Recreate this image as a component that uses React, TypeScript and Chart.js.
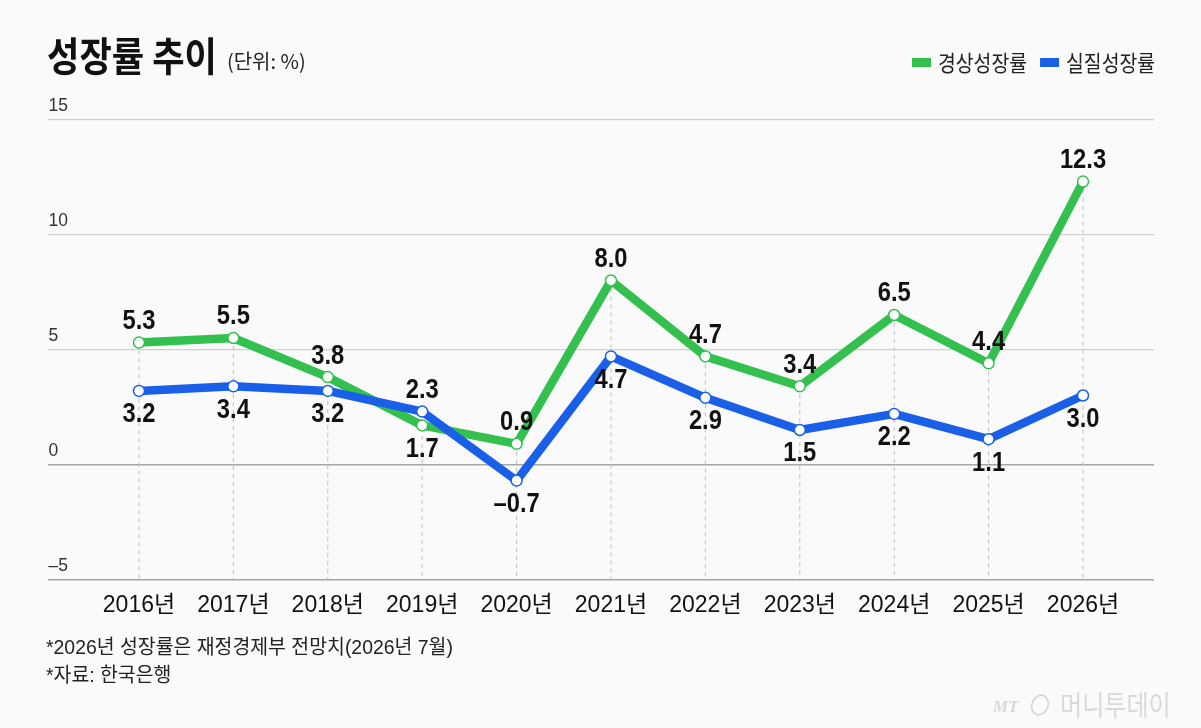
import React, { useEffect, useRef } from 'react';
import { Chart, registerables } from 'chart.js';

Chart.register(...registerables);

// data
const years = ['2016', '2017', '2018', '2019', '2020', '2021', '2022', '2023', '2024', '2025', '2026'];
const nominalGrowth = [5.3, 5.5, 3.8, 1.7, 0.9, 8.0, 4.7, 3.4, 6.5, 4.4, 12.3];
const realGrowth = [3.2, 3.4, 3.2, 2.3, -0.7, 4.7, 2.9, 1.5, 2.2, 1.1, 3.0];
const yTicks = [-5, 0, 5, 10, 15];
const seriesNames = ['경상성장률', '실질성장률'];
const title = '성장률 추이';
const unitText = '(단위: %)';
const notes = ['*2026년 성장률은 재정경제부 전망치(2026년 7월)', '*자료: 한국은행'];

const SANS = "'Liberation Sans', 'Noto Sans CJK KR', sans-serif";
const KR = "'Noto Sans CJK KR', sans-serif";
const GREEN = '#33c04f';
const BLUE = '#1a5fe8';
const BG = '#fafafa';

const fmt = (v: number) => (v < 0 ? '\u2013' + Math.abs(v).toFixed(1) : v.toFixed(1));

// draws text squeezed horizontally (the original uses a condensed gothic)
function squeezed(
  ctx: CanvasRenderingContext2D,
  text: string,
  x: number,
  y: number,
  font: string,
  sx: number,
  color = '#111',
  align: CanvasTextAlign = 'left',
  baseline: CanvasTextBaseline = 'alphabetic'
) {
  ctx.save();
  ctx.translate(x, y);
  ctx.scale(sx, 1);
  ctx.font = font;
  ctx.fillStyle = color;
  ctx.textAlign = align;
  ctx.textBaseline = baseline;
  ctx.fillText(text, 0, 0);
  const w = ctx.measureText(text).width * sx;
  ctx.restore();
  return w;
}

const guideLines = {
  id: 'guideLines',
  beforeDatasetsDraw(chart: any) {
    const { ctx, chartArea, scales } = chart;
    ctx.save();
    ctx.strokeStyle = '#bdbdbd';
    ctx.lineWidth = 1;
    ctx.setLineDash([4, 4]);
    years.forEach((_, i) => {
      const x = scales.x.getPixelForValue(i);
      const top = scales.y.getPixelForValue(Math.max(nominalGrowth[i], realGrowth[i]));
      ctx.beginPath();
      ctx.moveTo(x, top);
      ctx.lineTo(x, chartArea.bottom);
      ctx.stroke();
    });
    ctx.restore();
  },
};

const valueLabels = {
  id: 'valueLabels',
  afterDatasetsDraw(chart: any) {
    const { ctx, scales } = chart;
    years.forEach((_, i) => {
      const x = scales.x.getPixelForValue(i);
      const a = nominalGrowth[i];
      const b = realGrowth[i];
      [a, b].forEach((v, k) => {
        const other = k === 0 ? b : a;
        const y = scales.y.getPixelForValue(v);
        const above = v >= other;
        squeezed(ctx, fmt(v), x, above ? y - 21 : y + 24, `bold 27px ${SANS}`, 0.88, '#111', 'center', 'middle');
      });
    });
  },
};

const frame = {
  id: 'frame',
  afterDraw(chart: any) {
    const { ctx, chartArea, scales } = chart;
    ctx.save();
    // y tick labels above grid lines
    yTicks.forEach((t) => {
      squeezed(
        ctx,
        t < 0 ? '\u2013' + Math.abs(t) : String(t),
        chartArea.left + 1,
        scales.y.getPixelForValue(t) - 14,
        `19px ${SANS}`,
        0.92,
        '#333',
        'left',
        'middle'
      );
    });

    // title
    const tw = squeezed(ctx, title, 47, 71, `bold 40px ${KR}`, 0.88);
    squeezed(ctx, unitText, 47 + tw + 10, 69, `20px ${KR}`, 1, '#222');

    // legend
    const colors = [GREEN, BLUE];
    let lx = 912;
    seriesNames.forEach((name, i) => {
      ctx.fillStyle = colors[i];
      ctx.fillRect(lx, 58, 19, 9);
      const w = squeezed(ctx, name, lx + 26, 71, `22px ${KR}`, 0.88, '#222');
      lx += 26 + w + 13;
    });

    // notes
    squeezed(ctx, notes[0], 46, 654, `20px ${SANS}`, 0.97, '#222');
    squeezed(ctx, notes[1], 46, 682, `20px ${SANS}`, 0.97, '#222');

    // watermark
    ctx.fillStyle = '#d9d9d9';
    ctx.font = `italic bold 17px 'Liberation Serif', serif`;
    ctx.textAlign = 'left';
    ctx.textBaseline = 'alphabetic';
    ctx.fillText('MT', 993, 712);
    ctx.strokeStyle = '#d4d4d4';
    ctx.lineWidth = 1.5;
    ctx.beginPath();
    ctx.ellipse(1040, 705, 8, 10, 0.4, 0, Math.PI * 2);
    ctx.stroke();
    squeezed(ctx, '머니투데이', 1060, 716, `28px ${KR}`, 0.86, '#d9d9d9');
    ctx.restore();
  },
};

export default function App() {
  const canvasRef = useRef<HTMLCanvasElement>(null);

  useEffect(() => {
    if (!canvasRef.current) return;
    const chart = new Chart(canvasRef.current, {
      type: 'line',
      data: {
        datasets: [
          {
            label: seriesNames[0],
            data: nominalGrowth.map((v, i) => ({ x: i, y: v })),
            borderColor: GREEN,
            borderWidth: 8.5,
            borderJoinStyle: 'round',
            pointRadius: 5.5,
            pointBorderWidth: 1.5,
            pointBackgroundColor: '#fff',
            pointBorderColor: GREEN,
            tension: 0,
            order: 2,
          },
          {
            label: seriesNames[1],
            data: realGrowth.map((v, i) => ({ x: i, y: v })),
            borderColor: BLUE,
            borderWidth: 8.5,
            borderJoinStyle: 'round',
            pointRadius: 5.5,
            pointBorderWidth: 1.5,
            pointBackgroundColor: '#fff',
            pointBorderColor: BLUE,
            tension: 0,
            order: 1,
          },
        ],
      },
      options: {
        animation: false,
        responsive: false,
        layout: { padding: { left: 47.5, right: 47, top: 119.5, bottom: 108.5 } },
        plugins: { legend: { display: false }, tooltip: { enabled: false } },
        scales: {
          x: {
            type: 'linear',
            min: -0.969,
            max: 10.752,
            grid: { display: false, drawTicks: false },
            border: { display: false },
            afterBuildTicks: (s: any) => {
              s.ticks = years.map((_, i) => ({ value: i }));
            },
            afterFit: (s: any) => {
              s.height = 40;
            },
            ticks: {
              autoSkip: false,
              maxRotation: 0,
              padding: 12,
              color: '#111',
              font: { family: SANS, size: 23 },
              callback: (v: any) => years[v] + '년',
            },
          },
          y: {
            min: -5,
            max: 15,
            afterBuildTicks: (s: any) => {
              s.ticks = yTicks.map((v) => ({ value: v }));
            },
            afterFit: (s: any) => {
              s.width = 0;
            },
            ticks: { display: false },
            border: { display: false },
            grid: {
              drawTicks: false,
              color: (c: any) => (c.tick && c.tick.value <= 0 ? '#a6a6a6' : '#d0d0d0'),
              lineWidth: (c: any) => (c.tick && c.tick.value <= 0 ? 1.5 : 1.2),
            },
          },
        },
      },
      plugins: [guideLines, valueLabels, frame],
    });
    return () => chart.destroy();
  }, []);

  return (
    <div style={{ position: 'absolute', left: 0, top: 0, width: 1201, height: 728, background: BG }}>
      <canvas ref={canvasRef} width={1201} height={728} style={{ display: 'block' }} />
    </div>
  );
}
